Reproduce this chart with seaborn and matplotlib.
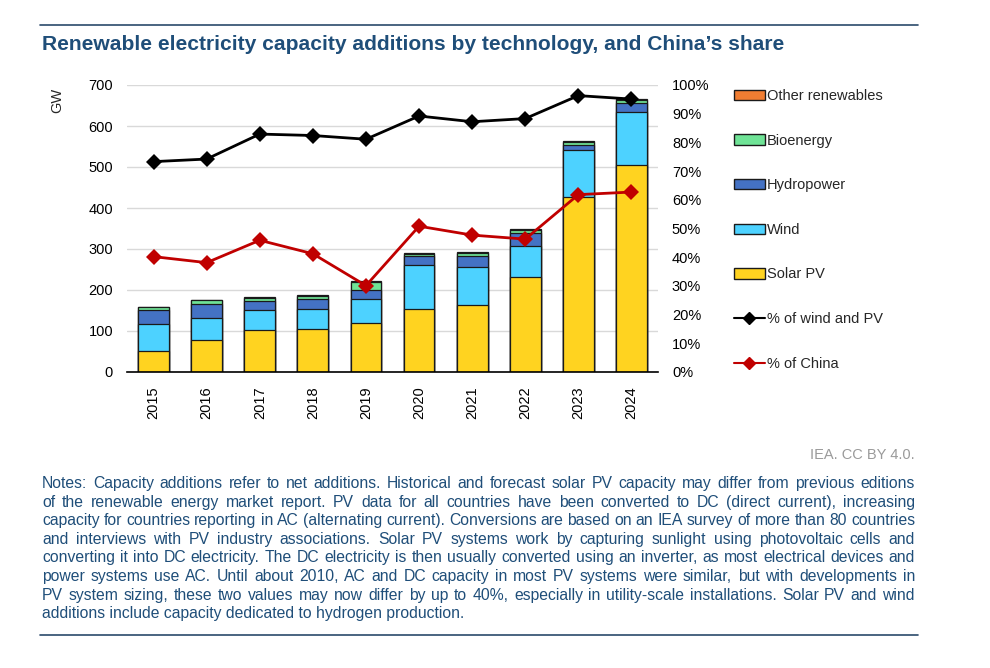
import numpy as np
import pandas as pd
import matplotlib
matplotlib.use("Agg")
import matplotlib.pyplot as plt
import seaborn as sns
from matplotlib.patches import Patch
from matplotlib.lines import Line2D

# Données (GW et %)
years = ['2015', '2016', '2017', '2018', '2019', '2020', '2021', '2022', '2023', '2024']
solar_pv = [50, 78, 103, 104, 119, 154, 163, 232, 426, 505]
wind = [67, 53, 48, 50, 60, 107, 93, 75, 116, 128]
hydropower = [35, 35, 23, 24, 21, 21, 26, 32, 12, 23]
bioenergy = [6, 9, 7, 8, 20, 7, 9, 7, 7, 7]
other_renewables = [1.5, 1, 1, 1.5, 1.5, 2, 2, 2.5, 2.5, 3]
share_wind_pv = [73.3, 74.2, 82.9, 82.4, 81.1, 89.2, 87.2, 88.3, 96.3, 95.1]
share_china = [40.2, 38.1, 45.9, 41.2, 30.1, 50.8, 47.7, 46.3, 61.8, 62.7]

series_names = ['Solar PV', 'Wind', 'Hydropower', 'Bioenergy', 'Other renewables']
series_values = [solar_pv, wind, hydropower, bioenergy, other_renewables]
colors = {'Solar PV': '#FFD320', 'Wind': '#4DD2FF', 'Hydropower': '#4472C4',
          'Bioenergy': '#6FE396', 'Other renewables': '#F07D32'}

notes_lines = [
    "Notes: Capacity additions refer to net additions. Historical and forecast solar PV capacity may differ from previous editions",
    "of the renewable energy market report. PV data for all countries have been converted to DC (direct current), increasing",
    "capacity for countries reporting in AC (alternating current). Conversions are based on an IEA survey of more than 80 countries",
    "and interviews with PV industry associations. Solar PV systems work by capturing sunlight using photovoltaic cells and",
    "converting it into DC electricity. The DC electricity is then usually converted using an inverter, as most electrical devices and",
    "power systems use AC. Until about 2010, AC and DC capacity in most PV systems were similar, but with developments in",
    "PV system sizing, these two values may now differ by up to 40%, especially in utility-scale installations. Solar PV and wind",
    "additions include capacity dedicated to hydrogen production.",
]

BLUE = '#1F4E79'
W, H = 990, 668

sns.set_theme(style='white')
plt.rcParams['font.family'] = ['Liberation Sans', 'DejaVu Sans']

df = pd.DataFrame({'year': years})
for name, vals in zip(series_names, series_values):
    df[name] = vals
cum = df[series_names].cumsum(axis=1)

fig = plt.figure(figsize=(W / 100, H / 100), dpi=100)
ax = fig.add_axes([127 / W, 1 - 372 / H, (658 - 127) / W, (372 - 85) / H])

# Barres empilées : on trace les cumuls du haut vers le bas
for name in reversed(series_names):
    sns.barplot(x=df['year'], y=cum[name], color=colors[name], width=0.58,
                edgecolor='#1a1a1a', linewidth=0.9, saturation=1, ax=ax, zorder=2)

ax.set_ylim(0, 700)
ax.set_xlim(-0.5, len(years) - 0.5)
ax.set_yticks(np.arange(0, 701, 100))
ax.yaxis.grid(True, color='#D9D9D9', linewidth=1, zorder=0)
ax.set_axisbelow(True)
ax.set_xlabel('')
ax.set_ylabel('')
for s in ['left', 'top', 'right']:
    ax.spines[s].set_visible(False)
ax.spines['bottom'].set_color('black')
ax.spines['bottom'].set_linewidth(1.2)
ax.tick_params(axis='y', length=0, pad=10, labelsize=10.5, colors='black')
ax.tick_params(axis='x', length=0, pad=10, labelsize=10.5, colors='black')
plt.setp(ax.get_xticklabels(), rotation=90)

# Parts en % sur l'axe secondaire
ax2 = ax.twinx()
xpos = np.arange(len(years))
sns.lineplot(x=xpos, y=share_wind_pv, ax=ax2, color='black', marker='D',
             markersize=8, linewidth=2, markeredgewidth=0)
sns.lineplot(x=xpos, y=share_china, ax=ax2, color='#C00000', marker='D',
             markersize=8, linewidth=2, markeredgewidth=0)
ax2.set_ylim(0, 100)
ax2.set_xlim(-0.5, len(years) - 0.5)
ax2.set_yticks(np.arange(0, 101, 10))
ax2.set_yticklabels([f"{v}%" for v in range(0, 101, 10)])
ax2.tick_params(axis='y', length=0, pad=10, labelsize=10.5, colors='black')
for s in ax2.spines.values():
    s.set_visible(False)

fig.text(57 / W, 1 - 100 / H, 'GW', rotation=90, ha='center', va='center', fontsize=10.5)

# Légende
handles = [Patch(facecolor=colors[n], edgecolor='#1a1a1a', linewidth=1)
           for n in reversed(series_names)]
labels = list(reversed(series_names))
handles += [Line2D([], [], color='black', marker='D', markersize=6, lw=1.5),
            Line2D([], [], color='#C00000', marker='D', markersize=6, lw=1.5)]
labels += ['% of wind and PV', '% of China']
fig.legend(handles, labels, loc='upper left', bbox_to_anchor=(734 / W, 1 - 89 / H),
           frameon=False, fontsize=10.5, handlelength=2.1, handletextpad=0.15,
           labelspacing=2.1, borderaxespad=0, borderpad=0)

# Titre et filets
fig.text(42 / W, 1 - 45 / H, "Renewable electricity capacity additions by technology, and China\u2019s share",
         fontsize=15.1, fontweight='bold', color=BLUE, ha='left', va='center')
for yy in (25, 635):
    fig.add_artist(Line2D([40 / W, 918 / W], [1 - yy / H] * 2, color='#2B4A6B', lw=1.2))

fig.text(915 / W, 1 - 455 / H, 'IEA. CC BY 4.0.', ha='right', va='center',
         fontsize=10.5, color='#9A9A9A')

# Notes justifiées
renderer = fig.canvas.get_renderer()
x0, x1 = 42, 915
fs_notes = 11.3
for i, line in enumerate(notes_lines):
    y = 1 - (488 + i * 18.6) / H
    if i == len(notes_lines) - 1:
        fig.text(x0 / W, y, line, fontsize=fs_notes, color=BLUE, ha='left', va='baseline')
        continue
    words = line.split(' ')
    texts = [fig.text(0, y, w, fontsize=fs_notes, color=BLUE, ha='left', va='baseline') for w in words]
    widths = [t.get_window_extent(renderer).width for t in texts]
    gap = (x1 - x0 - sum(widths)) / (len(words) - 1)
    x = x0
    for t, w in zip(texts, widths):
        t.set_x(x / W)
        x += w + gap

fig.savefig('out.png', dpi=100)
